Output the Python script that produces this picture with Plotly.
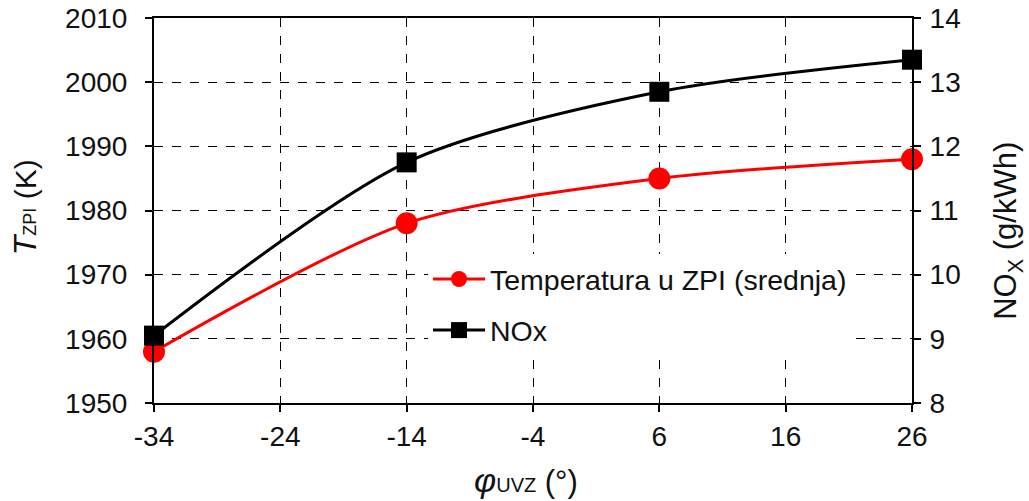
import plotly.graph_objects as go

phi = [-34, -14, 6, 26]
temp_zpi = [1958, 1978, 1985, 1988]
nox = [9.05, 11.75, 12.85, 13.35]
x_ticks = [-34, -24, -14, -4, 6, 16, 26]

FONT = "Liberation Sans, Arial, sans-serif"

fig = go.Figure()
fig.add_trace(go.Scatter(
    x=phi, y=temp_zpi, name="Temperatura u ZPI (srednja)", legendgroup="a",
    mode="lines+markers", line=dict(color="#ff0000", width=3, shape="spline", smoothing=0.8),
    marker=dict(symbol="circle", size=22, color="#ff0000"), yaxis="y", cliponaxis=False))
fig.add_trace(go.Scatter(
    x=phi, y=nox, name="NOx", legendgroup="b",
    mode="lines+markers", line=dict(color="#000000", width=3, shape="spline", smoothing=0.8),
    marker=dict(symbol="square", size=20, color="#000000"), yaxis="y2", cliponaxis=False))

axis_common = dict(showline=True, linecolor="black", linewidth=2,
                   ticks="outside", ticklen=7, tickwidth=1.5, tickcolor="black",
                   zeroline=False, automargin=False, ticklabeloverflow="allow")

fig.update_layout(
    width=1029, height=501,
    margin=dict(l=154, r=117, t=18, b=98),
    paper_bgcolor="white", plot_bgcolor="white",
    font=dict(family=FONT, size=28, color="#111111"),
    showlegend=True,
    legend=dict(x=0.3615, y=0.387, xanchor="left", yanchor="top",
                bgcolor="white", font=dict(size=28.5), itemwidth=52,
                tracegroupgap=11),
    xaxis=dict(range=[-34, 26], tickvals=x_ticks, ticktext=[str(v) for v in x_ticks],
               mirror=True, showgrid=True, gridcolor="black", gridwidth=1, griddash="dash",
               **axis_common),
    yaxis=dict(range=[1950, 2010], dtick=10, ticklabelstandoff=12,
               showgrid=True, gridcolor="black", gridwidth=1, griddash="dash",
               **axis_common),
    yaxis2=dict(range=[8, 14], dtick=1, overlaying="y", side="right",
                ticklabelstandoff=3, showgrid=False, **axis_common),
    annotations=[
        dict(text="<i><span style='font-size:32px'>T</span></i><span style='font-size:18px'>ZPI</span> (K)",
             xref="paper", yref="paper", x=-0.170, y=0.509, textangle=-90,
             xanchor="center", yanchor="middle", showarrow=False, font=dict(size=30)),
        dict(text="NO<sub>X</sub> (g/kWh)",
             xref="paper", yref="paper", x=1.1266, y=0.447, textangle=-90,
             xanchor="center", yanchor="middle", showarrow=False, font=dict(size=31)),
        dict(text="<i><span style='font-size:34px'>φ</span></i><span style='font-size:20px'>UVZ</span> (°)",
             xref="paper", yref="paper", x=0.491, y=-0.200,
             xanchor="center", yanchor="middle", showarrow=False, font=dict(size=31)),
    ],
)

fig.write_html("out.html", config={"displayModeBar": False},
               post_script="document.body.style.margin='0';")
